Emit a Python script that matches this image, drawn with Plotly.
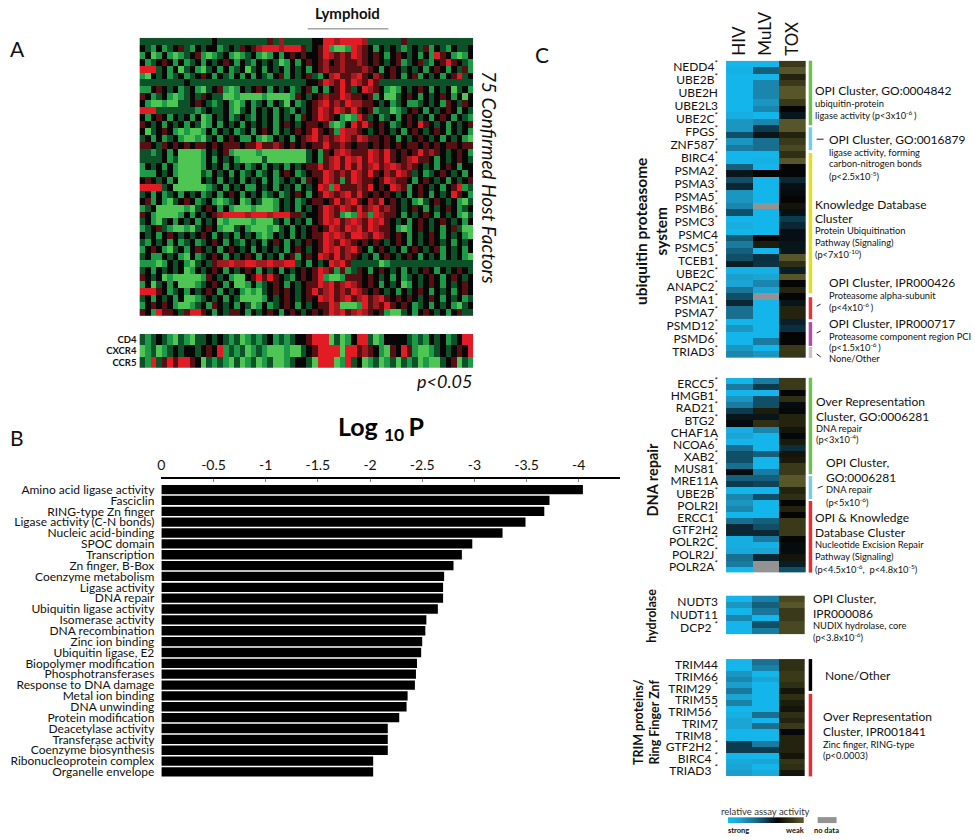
import plotly.graph_objects as go

W, H = 975, 840
FONT = "Lato"

# ---------- Panel A ----------
hostfactor_rows = [
"ddddddddddddd.dddddddddmdrddddd..RRrRRRRrddddddmdddddddddddd",
".dg.gd.mdg.d..gd.dm.mrRRRrRRRmd.mRgGGgRrm.g.d.dgd.dmg.dg.dd",
"g.Gg.gGgd.mgGgd.gGgd.gGg.g.m.m..mRrmrmRrm.m.g.m.d.g.gRm.gGg.",
".gd.m.g.gd.g.d.m.g.dg.d.dGg.g.m.mr.mrmmrm.m.d.mgd.mdg.mRm.dg",
"RRRd.g.Gd.gGd.g.gd.Gd.g.d.g.d.g.mrmmrmmmrm.g.m.d.d.g.m.g.dmg",
"gG.d.gd.gd.m.g.dg.g.g.dg.mg.d.mdg.rRmmrRm.rm.m.g.mg.d.g.mRd.",
"dddddddd.ddddddddddddddddddddd..mRrmRmRrmRmdddddddddddddddddd",
"gg.m.d.gd.gGd.mgGg.d.m.g.d.gd.mg.g.mRmd.Rrm.gGg.d.m.g.d.Gd.g",
"m.gd.gGgd.dm.ddGGgGGGGgGGGGgm.d.mrmmRrmm.mg.GGd.m.g.d.m.g.G.",
".gGGgGGdd.m.dgd.gGg.gd.g.dG.gd.mrRmrmRrrmm.d.gd.ggd.d.gm.dm.",
"RRRdddddddgd.dd.gGd.g.d.g.dg.d.mRrmRrmRm.mgddGgd.m.g.d.m.g.d",
".g.m.g.d.g.Gg.d.gd.dg.d.g.d.gm.mRrm.gGgRmd.gd.g.m.d.g.m.g.dg",
"m.d.g.d.g.dGg.g.d.g.d.d.g.m.d.mm.mgGg.RmRm.m.gd.m.Rm.d.g.d.m",
".Gd.m.gGgGGg.g.d.gd.g.m.g.d.m.mRm.mgRrrm.d.m.d.g.m.d.m.g.d.g",
"d.g.gd.gGGgGd.g.m.gg.gGg.d.g.mrRmrmrRrmRrmm.m.g.d.m.d.g.d.gG",
"mm.dm.m.m.mm.m.mmm.mmRmmrm.m.m.mmRmmrm.mm.m.m.m.mm.m.m.mm.mm",
"ddgd.g.GGGGg.d.mgGGGGgGGGGGGGGd.gm.rRrmmmRrmRm.m.mRmrm.d.m.g",
"dddd.gdGGGGg.g.d.gGGGGdGGGGGGGd.gmrRmRrRmRrmRm.mrRmm.g.d.m.d",
"g.d.g.gGGGGg.d.g.d.gd.g.d.g.d.mmRmrRmRmRmrRmrRrmrm.d.g.m.g",
"ggg.d.gGGGGdg.d.g.gd.gd.g.m.gd.mmRrmrmRrmRm.rmRrmd.gd.m.d.g.",
".m.d.g.GGGG.d.g.d.g.d.g.gd.d.gm.mRrmgmRrmm.mRrmm.g.m.d.g.d.m",
"RRRRd.GGGGGGgd.g.d.gg.d.g.d.g.d.RrgRmmmrmR.m.Rrmg.m.d.g.mRgd",
"d.g.gd.g.d.gd.g.m.g.d.gd.gd.m.g.mRrmrRmRm.m.m.d.g.m.g.d.Rm.g",
".mg.gGd.m.gd.gGgd.Gg.dGGg.d.gd.mm.mRmrRm.rmR.m.d.gGd.m.d.gGd",
"gd.GGGGGgGd.m.g.gGGGgGGGg.d.g.d.mRrmRrmRmrRmrm.d.m.g.d.m.gd.",
"m.gGGGGg.g.d.mrRRRRrRRRrRRRmmd..mRrmgGgRrgRrmm.g.d.m.g.d.gGd",
"d.gGd.g.d.g.d.GgGGGGgGGGd.g.d.g.mRrRmrRrmRrRm.d.g.m.d.m.d.g.",
"gd.mdgGGgGd.m.gGGd.gGGGgGd.g.d.m.mRrmRrRmRrmm.gGg.m.d.g.mdGG",
".d.g.m.d.d.m.g.d.g.d.gGg.d.g.d.mmRrRrmRRrmRrm.m.g.d.m.g.d.gG",
"dg.d.g.gd.gd.m.g.dg.d.g.m.g.d.m.mRrmRrm.m.m.d.m.g.d.m.d.g.d.",
"g.m.gGd.g.m.d.g.m.d.g.d.d.g.m.d.mRrRmrRm.g.m.d.g.m.d.mg.d.g.",
"d.gg.d.gG.gd.m.g.d.m.g.d.g.mg.m.RrmRmrm.d.g.m.d.m.g.d.g.d.gG",
"gggGg.d.gGd.dmrrRrrRRrrRrrRRd.g.d.RrRmdddddGgddddddddddddddd",
"d.g.d.d.Gg.d.m.g.d.m.g.d.g.d.m.mRrmgmgdm.g.m.d.g.d.m.g.d.m.d",
"m.d.GgGGGGGgm.d.gGG.mRmRm.dg.m.mRgGGgmmm.m.d.g.gd.d.m.g.m.d.",
"g.Gd.g.GGGgd.m.g.GGg.gd.m.g.d.mmRrRmrRrm.m.g.d.Gg.d.m.g.d.m.",
"RRRm.gd.g.d.m.g.d.gGgGd.m.m.d.mRmrRmrmRrm.m.d.g.d.m.g.d.g.m.",
"d.g.d.g.GGgd.d.g.dGGGGg.d.m.d.m.RrRmrRmrRmrRm.m.m.d.m.g.d.gd",
"g.m.m.gGGgd.gm.d.g.dGg.gd.m.g.d.mmRrGGGgRmrmRm.m.gd.g.d.gGd.",
"m.gRmm.dmRRm.g.dmm.g.d.m.g.m.d.m.mRrRmrRrm.mgGGd.g.m.d.g.mdd",
]
receptor_names = ["CD4", "CXCR4", "CCR5"]
receptor_rows = [
"dgd.dgGdgGdd.d.dgdGgdgd.gdgd..mRRRGdGg.RRdGg....dgdg.d.gd.RR",
"GgdGgd.d..d.m.RgdgdGgdgGGGgGGd.mRRRRGRRmrm.gGm.RmgGGgd.d.m.R",
"dgRdmRmRRm.GdgdgGdGgdGgdGGgd..dGRRRGgRd.GgdGgdGdgdGgGGd.mGdg",
]
cell_levels = {"G": 3, "g": 2, "d": 1, ".": 0, "m": -1, "r": -2, "R": -3}
redgreen = [[0, "#e21c24"], [1/6, "#a01a20"], [2/6, "#560f12"], [3/6, "#070707"],
            [4/6, "#0c5128"], [5/6, "#1d9a47"], [1, "#4fc553"]]

# ---------- Panel B ----------
terms = ["Amino acid ligase activity", "Fasciclin", "RING-type Zn finger", "Ligase activity (C-N bonds)",
         "Nucleic acid-binding", "SPOC domain", "Transcription", "Zn finger, B-Box", "Coenzyme metabolism",
         "Ligase activity", "DNA repair", "Ubiquitin ligase activity", "Isomerase activity", "DNA recombination",
         "Zinc ion binding", "Ubiquitin ligase, E2", "Biopolymer modification", "Phosphotransferases",
         "Response to DNA damage", "Metal ion binding", "DNA unwinding", "Protein modification",
         "Deacetylase activity", "Transferase activity", "Coenzyme biosynthesis", "Ribonucleoprotein complex",
         "Organelle envelope"]
log10p = [-4.04, -3.72, -3.67, -3.49, -3.27, -2.98, -2.88, -2.80, -2.71, -2.70, -2.70, -2.65, -2.54, -2.53,
          -2.50, -2.49, -2.45, -2.44, -2.43, -2.36, -2.35, -2.28, -2.17, -2.17, -2.17, -2.03, -2.03]
log_ticks = [0, -0.5, -1, -1.5, -2, -2.5, -3, -3.5, -4]
log_ticktext = ["0", "-0.5", "-1", "-1.5", "-2", "-2.5", "-3", "-3.5", "-4"]

# ---------- Panel C (0 strong ... 6 black ... 9 weak, 10 no data) ----------
assays = ["HIV", "MuLV", "TOX"]
S = "<sup>*</sup>"
ups_genes = ["NEDD4"+S, "UBE2B"+S, "UBE2H", "UBE2L3", "UBE2C"+S, "FPGS"+S, "ZNF587"+S, "BIRC4"+S, "PSMA2"+S,
             "PSMA3"+S, "PSMA5"+S, "PSMB6"+S, "PSMC3"+S, "PSMC4", "PSMC5"+S, "TCEB1"+S, "UBE2C"+S, "ANAPC2"+S,
             "PSMA1"+S, "PSMA7"+S, "PSMD12"+S, "PSMD6"+S, "TRIAD3"+S]
ups_values = [
[0,0,8],[0.3,3.5,9],[0,0,7],[0,2,8],[0,2,9],[0,2,9],[0,1.5,8],[0,2,6],[0.5,0,5.5],[1.5,2,9],
[1.5,4.5,9],[4,5.5,7],[1.5,3,8],[2.5,3,8.5],[0,0,7.5],[0,0.3,9],[3.5,0,6],[5.5,6,6],[4,0,5],[5,0,5.7],
[1.5,0,5.8],[1.5,0,6],[2,10,6.5],[4,0,5.7],[0,0,4.5],[0.5,0,5],[0,0,5.7],[3.7,6,5.7],[2.5,6.8,5.5],[3.5,0,5.5],
[4,4.8,9],[5.3,4.7,7.5],[0.3,0.3,5.3],[1.2,1,9],[1,2,6],[2.7,1,7],[4,10,6],[5,0,5.5],[3,0,7],[3,0,7],
[0,0,5.2],[1.5,0,4.8],[0,0,6],[0,2.5,6],[1.5,0,8],[2,1.5,7.8]]
dna_genes = ["ERCC5"+S, "HMGB1"+S, "RAD21"+S, "BTG2"+S, "CHAF1A", "NCOA6"+S, "XAB2"+S, "MUS81"+S, "MRE11A",
             "UBE2B"+S, "POLR2I", "ERCC1"+S, "GTF2H2", "POLR2C"+S, "POLR2J"+S, "POLR2A"+S]
dna_values = [
[0,2.5,8],[2.5,4.5,8],[0,0,6],[1.5,4,7.5],[2.5,4,5.8],[4.5,6.8,5.9],[5.5,5.5,7],[5.8,7.5,7],[0.5,2,6.5],[1,0,5.9],
[0,0,6.7],[3,0,4.8],[4,3.5,6.5],[4,0,6.7],[3,0,8],[5.8,2.5,8],[3.5,3.5,9.2],[4.5,4.3,9],[0,0,7],[2,4,7.5],
[1.5,0,6],[2,0,7],[0,0,6],[3,3.5,8],[5,4,8],[5,5,8],[0.5,2.5,6],[0.5,0.3,5.8],[0.8,1,5.8],[3,5,6.5],[2.5,10,5.3],[0,10,4]]
hyd_genes = ["NUDT3", "NUDT11", "DCP2 "+S]
hyd_values = [[0,2.3,8.5],[1.5,3.5,9],[0,2.7,8],[2,0,8],[0,4,8.5],[0,2.5,8.5]]
trim_genes = ["TRIM44", "TRIM66", "TRIM29 "+S, "TRIM55", "TRIM56 "+S, "TRIM7", "TRIM8 "+S, "GTF2H2 "+S, "BIRC4 "+S, "TRIAD3 "+S]
trim_values = [
[0,3,7.5],[0,2.2,7.5],[1.5,0,8],[2,1,8],[1.2,0,7.5],[2.6,0,6.5],[1,0,7.5],[2.2,0,6.8],[0,0,6.5],[0.3,3,7.5],
[1,0,7],[1,3,8],[0,0,5.9],[0,0,7],[4.5,2.5,7],[4.5,4.5,7],[0,0,6.5],[0.7,1,7.8],[1,0,7.5],[1.2,0.7,6.5]]
scale_steps = [0, 1, 2, 3, 4, 5, 6, 7, 8, 9]
assay_scale = [[0, "#13b5ea"], [0.1, "#1aa5d5"], [0.2, "#1a86ad"], [0.3, "#186f90"], [0.4, "#0f4f68"],
               [0.5, "#0a2733"], [0.6, "#050505"], [0.7, "#23230f"], [0.8, "#3a3a1a"], [0.9, "#56562a"],
               [0.95, "#5c5c2c"], [0.95, "#939393"], [1, "#939393"]]


def xdom(a, b): return [a / W, b / W]
def ydom(a, b): return [1 - b / H, 1 - a / H]


fig = go.Figure()
layout = {}


def set_axes(n, x0, x1, y0, y1, xopts=None, yopts=None):
    base = dict(showgrid=False, zeroline=False, showticklabels=False, ticks="", showline=False)
    xa = dict(base, domain=xdom(x0, x1), anchor="y%d" % n)
    ya = dict(base, domain=ydom(y0, y1), anchor="x%d" % n)
    xa.update(xopts or {})
    ya.update(yopts or {})
    layout["xaxis%d" % n] = xa
    layout["yaxis%d" % n] = ya


def letters_to_z(rows):
    return [[cell_levels[c] for c in r.ljust(60, ".")[:60]] for r in rows]


# Panel A heatmaps
zA = letters_to_z(hostfactor_rows)
fig.add_trace(go.Heatmap(z=zA, colorscale=redgreen, zmin=-3, zmax=3, showscale=False, xaxis="x1", yaxis="y1"))
set_axes(1, 136, 471, 35, 315, yopts=dict(autorange="reversed"))
zR = letters_to_z(receptor_rows)
fig.add_trace(go.Heatmap(z=zR, y=receptor_names, colorscale=redgreen, zmin=-3, zmax=3, showscale=False,
                         xaxis="x2", yaxis="y2"))
set_axes(2, 136, 471, 333, 367, yopts=dict(autorange="reversed", showticklabels=True, type="category",
                                           tickfont=dict(family=FONT, size=9.5, color="#111", weight="bold"),
                                           ticklabelstandoff=2))

# Panel B bars
fig.add_trace(go.Bar(x=log10p, y=terms, orientation="h", marker=dict(color="#000000", line=dict(width=0)),
                     width=0.86, xaxis="x3", yaxis="y3"))
set_axes(3, 158, 619, 479, 779,
         xopts=dict(range=[0, -4.4], side="top", showticklabels=True, tickvals=log_ticks, ticktext=log_ticktext,
                    tickfont=dict(family=FONT, size=14, color="#111"), showline=True, linecolor="#000", linewidth=2,
                    ticks="inside", ticklen=3, tickcolor="#888", tickwidth=1, ticklabelstandoff=2),
         yopts=dict(type="category", range=[26.5, -0.96], showticklabels=True, tickmode="array",
                    tickvals=terms, ticktext=terms,
                    tickfont=dict(family=FONT, size=12, color="#111"), ticklabelstandoff=6))


# Panel C blocks
def block(n, values, genes, x0, x1, y0, y1, header=False):
    fig.add_trace(go.Heatmap(z=values, x=assays, colorscale=assay_scale, zmin=0, zmax=10, showscale=False,
                             xaxis="x%d" % n, yaxis="y%d" % n))
    xo = {}
    if header:
        xo = dict(side="top", showticklabels=True, tickangle=-90, tickfont=dict(family=FONT, size=17, color="#111"),
                  ticklabelstandoff=4)
    set_axes(n, x0, x1, y0, y1, xopts=xo,
             yopts=dict(range=[len(values) - 0.5, -0.5], showticklabels=True,
                        tickvals=[2 * i + 0.5 for i in range(len(genes))], ticktext=genes,
                        tickfont=dict(family=FONT, size=12, color="#111"), ticklabelstandoff=7))


block(4, ups_values, ups_genes, 725, 805, 58, 357, header=True)
block(5, dna_values, dna_genes, 725, 805, 377, 573)
block(6, hyd_values, hyd_genes, 725, 804, 596, 635)
block(7, trim_values, trim_genes, 725, 804, 660, 778)

fig.add_trace(go.Heatmap(z=[scale_steps], colorscale=assay_scale, zmin=0, zmax=10, zsmooth="best", showscale=False,
                         xaxis="x8", yaxis="y8"))
set_axes(8, 727, 803, 819, 825)

# Shapes
shapes = [dict(type="line", xref="paper", yref="paper", x0=305 / W, x1=386 / W, y0=1 - 26 / H, y1=1 - 26 / H,
               line=dict(color="#777", width=1)),
          dict(type="rect", xref="paper", yref="paper", x0=817 / W, x1=836 / W, y0=1 - 825 / H, y1=1 - 819 / H,
               line=dict(width=0), fillcolor="#939393")]
side_bars = [("#6cc24a", 58, 123), ("#6fcfe8", 125, 148), ("#e0e020", 151, 292), ("#ee3338", 296, 318),
             ("#b848a8", 321, 345), ("#c4c4c4", 346, 357), ("#6cc24a", 377, 474), ("#6fcfe8", 476, 499),
             ("#ee2a30", 501, 573), ("#000000", 660, 692), ("#ee2a30", 695, 778)]
for c, a, b in side_bars:
    shapes.append(dict(type="rect", xref="paper", yref="paper", x0=808 / W, x1=811.5 / W, y0=1 - b / H, y1=1 - a / H,
                       line=dict(width=0), fillcolor=c))
leaders = [(816, 137, 823, 137), (816, 305, 820, 303), (816, 332, 820, 330), (816, 353, 820, 356), (817, 488, 822, 486)]
for a, b, c, d in leaders:
    shapes.append(dict(type="line", xref="paper", yref="paper", x0=a / W, x1=c / W, y0=1 - b / H, y1=1 - d / H,
                       line=dict(color="#222", width=1)))
layout["shapes"] = shapes

# Text
ann = []
ANCH = {"left": "left", "right": "right", "middle": "center"}
PAD = {"left": -3, "right": 3, "middle": 0}


def T(x, y, s, size=12, anchor="left", bold=False, italic=False, angle=0, color="#111"):
    ann.append(dict(x=(x + PAD[anchor]) / W, y=1 - y / H, xref="paper", yref="paper", text=s, showarrow=False,
                    xanchor=ANCH[anchor], yanchor="middle", textangle=angle, align=ANCH[anchor],
                    font=dict(family=FONT, size=size, color=color, weight="bold" if bold else "normal",
                              style="italic" if italic else "normal")))


T(7, 46, "A", 21); T(7, 437, "B", 21); T(534, 52, "C", 21)
T(345, 10, "Lymphoid", 15, "middle", bold=True)
T(487, 175, "75 Confirmed Host Factors", 19, "middle", italic=True, angle=90)
T(470, 380, "p&lt;0.05", 18, "right", italic=True)
T(379, 428, "Log <sub>10 </sub>P", 25, "middle", bold=True, color="#000")

T(649, 230, "ubiquitin proteasome<br>system", 15.5, "middle", bold=True, angle=-90)
T(651, 479, "DNA repair", 14.5, "middle", bold=True, angle=-90)
T(650, 616, "hydrolase", 12.5, "middle", bold=True, angle=-90)
T(645, 723, "TRIM proteins/<br>Ring Finger Znf", 12.5, "middle", bold=True, angle=-90)

big, small = 12, 9.3
for x, y, s, z in [
    (815, 88, "OPI Cluster, GO:0004842", big), (815, 101, "ubiquitin-protein", small),
    (815, 113, "ligase activity (p&lt;3x10<sup>-6 </sup>)", small),
    (829, 137, "OPI Cluster, GO:0016879", big), (829, 150, "ligase activity, forming", small),
    (829, 161, "carbon-nitrogen bonds", small), (829, 174, "(p&lt;2.5x10<sup>-5</sup>)", small),
    (815, 203, "Knowledge Database", big), (815, 217, "Cluster", big), (815, 229, "Protein Ubiquitination", small),
    (815, 241, "Pathway (Signaling)", small), (815, 253, "(p&lt;7x10<sup>-10</sup>)", small),
    (829, 281, "OPI Cluster, IPR000426", big), (829, 294, "Proteasome alpha-subunit", small),
    (829, 306, "(p&lt;4x10<sup>-6 </sup>)", small),
    (829, 322, "OPI Cluster, IPR000717", big), (829, 335, "Proteasome component region PCI", small),
    (829, 346, "(p&lt;1.5x10<sup>-6 </sup>)", small), (829, 358, "None/Other", small),
    (816, 401, "Over Representation", big), (816, 416, "Cluster, GO:0006281", big), (816, 428, "DNA repair", small),
    (816, 439, "(p&lt;3x10<sup>-4</sup>)", small),
    (826, 462, "OPI Cluster,", big), (826, 477, "GO:0006281", big), (826, 489, "DNA repair", small),
    (826, 502, "(p&lt;5x10<sup>-6</sup>)", small),
    (815, 518, "OPI &amp; Knowledge", big), (815, 533, "Database Cluster", big),
    (815, 545, "Nucleotide Excision Repair", small), (815, 557, "Pathway (Signaling)", small),
    (815, 569, "(p&lt;4.5x10<sup>-6</sup>,  p&lt;4.8x10<sup>-5</sup>)", small),
    (813, 599, "OPI Cluster,", big), (813, 614, "IPR000086", big), (813, 626, "NUDIX hydrolase, core", small),
    (813, 638, "(p&lt;3.8x10<sup>-6</sup>)", small),
    (825, 677, "None/Other", big),
    (823, 718, "Over Representation", big), (823, 733, "Cluster, IPR001841", big),
    (823, 746, "Zinc finger, RING-type", small), (823, 757, "(p&lt;0.0003)", small),
]:
    T(x, y, s, z)
T(765, 813, "relative assay activity", 9.5, "middle", color="#333")
T(728, 832, "strong", 7.5, "left", bold=True)
T(803, 832, "weak", 7.5, "right", bold=True)
T(826, 832, "no data", 7.5, "middle", bold=True)
layout["annotations"] = ann

fig.update_layout(width=W, height=H, autosize=False, margin=dict(l=0, r=0, t=0, b=0), showlegend=False,
                  plot_bgcolor="white", paper_bgcolor="white", **layout)
fig.write_html("out.html", config={"displayModeBar": False},
               post_script="document.body.style.margin='0';document.body.style.overflow='hidden';")
